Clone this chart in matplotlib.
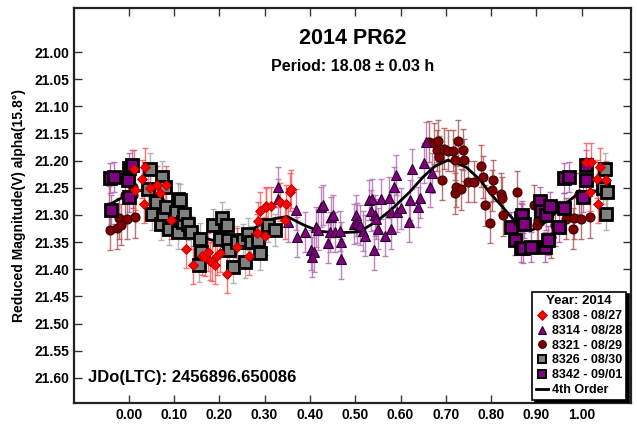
import matplotlib
matplotlib.use("Agg")
import matplotlib.pyplot as plt
from matplotlib.lines import Line2D

# ---- data (phase, reduced magnitude) ----
ph_8308 = [0.012, 0.013, 0.030, 0.033, 0.035, 0.046, 0.062, 0.068, 0.083, 0.094, 0.126, 0.143,
           0.161, 0.168, 0.175, 0.179, 0.183, 0.190, 0.194, 0.201, 0.216, 0.240, 0.266, 0.283,
           0.285, 0.289, 0.300, 0.302, 0.304, 0.315, 0.333, 0.344, 0.348, 0.355, 0.359,
           1.010, 1.018, 1.021, 1.034, 1.036, 1.040, 1.053]
mag_8308 = [21.215, 21.255, 21.233, 21.280, 21.212, 21.251, 21.245, 21.260, 21.245, 21.310, 21.363, 21.392,
            21.375, 21.378, 21.368, 21.384, 21.387, 21.393, 21.375, 21.371, 21.408, 21.359, 21.375, 21.333,
            21.312, 21.293, 21.339, 21.284, 21.285, 21.284, 21.276, 21.310, 21.279, 21.258, 21.252,
            21.202, 21.258, 21.202, 21.233, 21.279, 21.212, 21.236]

ph_8314 = [0.329, 0.330, 0.352, 0.370, 0.372, 0.390, 0.403, 0.409, 0.405, 0.414, 0.418, 0.425, 0.429,
           0.440, 0.444, 0.447, 0.451, 0.455, 0.466, 0.468, 0.469, 0.497, 0.501, 0.503, 0.510, 0.517,
           0.521, 0.531, 0.534, 0.536, 0.541, 0.543, 0.547, 0.550, 0.556, 0.565, 0.575, 0.578, 0.580,
           0.586, 0.589, 0.592, 0.602, 0.619, 0.620, 0.626, 0.639, 0.642, 0.651, 0.656, 0.666, 0.670]
mag_8314 = [21.249, 21.271, 21.313, 21.290, 21.341, 21.332, 21.365, 21.368, 21.378, 21.322, 21.328, 21.285, 21.282,
            21.351, 21.332, 21.304, 21.301, 21.332, 21.329, 21.381, 21.350, 21.316, 21.301, 21.315, 21.319, 21.330,
            21.338, 21.273, 21.292, 21.270, 21.365, 21.301, 21.307, 21.325, 21.270, 21.338, 21.268, 21.325, 21.295,
            21.249, 21.227, 21.295, 21.288, 21.313, 21.272, 21.216, 21.285, 21.268, 21.205, 21.165, 21.248, 21.223]

ph_8321 = [-0.043, -0.042, -0.025, -0.022, -0.018, -0.009, -0.004, 0.009, 0.010, 0.013,
           0.664, 0.675, 0.681, 0.683, 0.684, 0.692, 0.696, 0.705, 0.716, 0.721, 0.721, 0.723, 0.728,
           0.733, 0.738, 0.740, 0.749, 0.762, 0.777, 0.782, 0.786, 0.797, 0.801, 0.804, 0.821, 0.824,
           0.826, 0.858, 0.869, 0.894, 0.901, 0.903, 0.933, 0.940, 0.965, 0.981, 0.982, 0.994, 0.999, 1.018]
mag_8321 = [21.285, 21.327, 21.324, 21.306, 21.318, 21.264, 21.307, 21.249, 21.264, 21.304,
            21.165, 21.168, 21.181, 21.164, 21.193, 21.235, 21.178, 21.182, 21.182, 21.198, 21.260, 21.248, 21.164,
            21.253, 21.180, 21.199, 21.239, 21.239, 21.210, 21.230, 21.282, 21.314, 21.255, 21.236, 21.261, 21.268,
            21.301, 21.258, 21.318, 21.282, 21.318, 21.310, 21.341, 21.319, 21.307, 21.325, 21.306, 21.261, 21.307, 21.304]

ph_8326 = [0.043, 0.046, 0.051, 0.060, 0.072, 0.073, 0.076, 0.081, 0.083, 0.090, 0.105, 0.108, 0.109,
           0.113, 0.120, 0.121, 0.131, 0.138, 0.155, 0.157, 0.160, 0.186, 0.201, 0.205, 0.216, 0.219,
           0.222, 0.230, 0.238, 0.253, 0.256, 0.263, 0.271, 0.285, 0.289, 0.307, 0.322,
           1.047, 1.051, 1.054, 1.056]
mag_8326 = [21.252, 21.216, 21.298, 21.276, 21.316, 21.230, 21.298, 21.248, 21.285, 21.325, 21.295, 21.271, 21.332,
            21.273, 21.313, 21.298, 21.316, 21.332, 21.393, 21.344, 21.368, 21.319, 21.344, 21.306, 21.319, 21.347,
            21.365, 21.396, 21.350, 21.347, 21.387, 21.335, 21.350, 21.347, 21.371, 21.319, 21.328,
            21.250, 21.216, 21.298, 21.258]

ph_8342 = [-0.042, -0.038, -0.032, -0.001, 0.000, 0.001, 0.008,
           0.845, 0.852, 0.865, 0.865, 0.869, 0.871, 0.872, 0.887, 0.909, 0.911, 0.918, 0.922, 0.926,
           0.931, 0.950, 0.960, 0.962, 0.972, 1.003, 1.009, 1.010]
mag_8342 = [21.232, 21.290, 21.230, 21.235, 21.267, 21.213, 21.208,
            21.322, 21.347, 21.305, 21.360, 21.301, 21.361, 21.316, 21.359, 21.275, 21.292, 21.359, 21.301, 21.347,
            21.284, 21.322, 21.232, 21.287, 21.230, 21.267, 21.208, 21.236]

# 4th order Fourier fit
fit_phase = [-0.05, -0.03, 0.0, 0.02, 0.05, 0.08, 0.11, 0.14, 0.17, 0.20, 0.23, 0.26, 0.29, 0.32,
             0.35, 0.385, 0.42, 0.46, 0.51, 0.55, 0.58, 0.62, 0.65, 0.675, 0.705, 0.745, 0.775,
             0.80, 0.825, 0.85, 0.87, 0.89, 0.91, 0.935, 0.96, 0.99, 1.02, 1.05]
fit_mag = [21.285, 21.275, 21.262, 21.255, 21.257, 21.275, 21.300, 21.325, 21.343, 21.350, 21.345, 21.333,
           21.318, 21.307, 21.303, 21.318, 21.330, 21.333, 21.331, 21.310, 21.290, 21.258, 21.230, 21.211,
           21.199, 21.212, 21.235, 21.262, 21.285, 21.309, 21.324, 21.328, 21.320, 21.302, 21.282, 21.262,
           21.255, 21.258]

x_ticks = [0.0, 0.1, 0.2, 0.3, 0.4, 0.5, 0.6, 0.7, 0.8, 0.9, 1.0]
y_ticks = [21.00, 21.05, 21.10, 21.15, 21.20, 21.25, 21.30, 21.35, 21.40, 21.45, 21.50, 21.55, 21.60]

# (label, phase, mag, err, marker, face, edge, edge width, size, errcolor)
SERIES = [
    ("8321 - 08/29", ph_8321, mag_8321, 0.038, "o", "#800000", "#3a0000", 0.8, 6.5, "#b05a5a"),
    ("8314 - 08/28", ph_8314, mag_8314, 0.037, "^", "#800080", "#2a002a", 0.8, 7.0, "#b770b7"),
    ("8326 - 08/30", ph_8326, mag_8326, 0.030, "s", "#808080", "#000000", 2.0, 8.0, "#a8a8a8"),
    ("8342 - 09/01", ph_8342, mag_8342, 0.027, "s", "#800080", "#000000", 2.0, 8.0, "#b35cb3"),
    ("8308 - 08/27", ph_8308, mag_8308, 0.035, "D", "#ff0000", "#b00000", 0.6, 5.0, "#ff5a5a"),
]
LEGEND_ORDER = ["8308 - 08/27", "8314 - 08/28", "8321 - 08/29", "8326 - 08/30", "8342 - 09/01"]


def main():
    plt.rcParams.update({
        "font.family": "Liberation Sans", "font.weight": "bold", "font.size": 10,
        "axes.linewidth": 1.6, "figure.facecolor": "white",
    })
    fig = plt.figure(figsize=(6.37, 4.24), dpi=100)
    ax = fig.add_axes([0.116, 0.05, 0.874, 0.931])

    ax.plot(fit_phase, fit_mag, color="black", lw=2.0, zorder=3)

    handles = {}
    for i, (lab, ph, mg, err, mk, fc, ec, ew, ms, errc) in enumerate(SERIES):
        ax.errorbar(ph, mg, yerr=err, fmt="none", ecolor=errc, elinewidth=1.0,
                    capsize=2.5, capthick=1.0, alpha=0.85, zorder=2 + i * 0.01)
        ax.plot(ph, mg, ls="none", marker=mk, ms=ms, mfc=fc, mec=ec, mew=ew, zorder=4 + i)
        handles[lab] = Line2D([], [], ls="none", marker=mk, ms=5.5 if mk != "s" else 6,
                              mfc=fc, mec=ec, mew=min(ew, 1.4))

    hl = [handles[k] for k in LEGEND_ORDER] + [Line2D([], [], color="black", lw=2)]
    ll = LEGEND_ORDER + ["4th Order"]
    leg = ax.legend(hl, ll, loc="lower right", bbox_to_anchor=(0.992, 0.008),
                    title="Year: 2014", prop={"weight": "bold", "size": 9},
                    title_fontproperties={"weight": "bold", "size": 9.5},
                    frameon=True, fancybox=False, edgecolor="black", framealpha=1,
                    shadow={"color": "black", "alpha": 1.0},
                    handlelength=1.0, handletextpad=0.3, labelspacing=0.22,
                    borderpad=0.3, borderaxespad=0.0)
    leg.get_frame().set_linewidth(1.2)
    leg.set_zorder(20)

    ax.set_xlim(-0.121, 1.108)
    ax.set_ylim(21.646, 20.919)
    ax.set_xticks(x_ticks)
    ax.set_xticklabels([f"{v:.2f}" for v in x_ticks])
    ax.set_yticks(y_ticks)
    ax.set_yticklabels([f"{v:.2f}" for v in y_ticks])
    ax.tick_params(direction="in", length=6, width=1.0, top=True, right=True,
                   labelsize=10, colors="#333333", labelcolor="black")
    for s in ax.spines.values():
        s.set_color("#222222")

    ax.set_ylabel("Reduced Magnitude(V) alpha(15.8°)", fontsize=10, fontweight="bold", labelpad=6)
    ax.text(0.5, 0.924, "2014 PR62", transform=ax.transAxes, ha="center", va="center",
            fontsize=15.5, fontweight="bold")
    ax.text(0.5, 0.852, "Period: 18.08 ± 0.03 h", transform=ax.transAxes, ha="center",
            va="center", fontsize=11.5, fontweight="bold")
    ax.text(0.025, 0.063, "JDo(LTC): 2456896.650086", transform=ax.transAxes, ha="left",
            va="center", fontsize=12, fontweight="bold")

    fig.savefig("out.png", dpi=100)


if __name__ == "__main__":
    main()
